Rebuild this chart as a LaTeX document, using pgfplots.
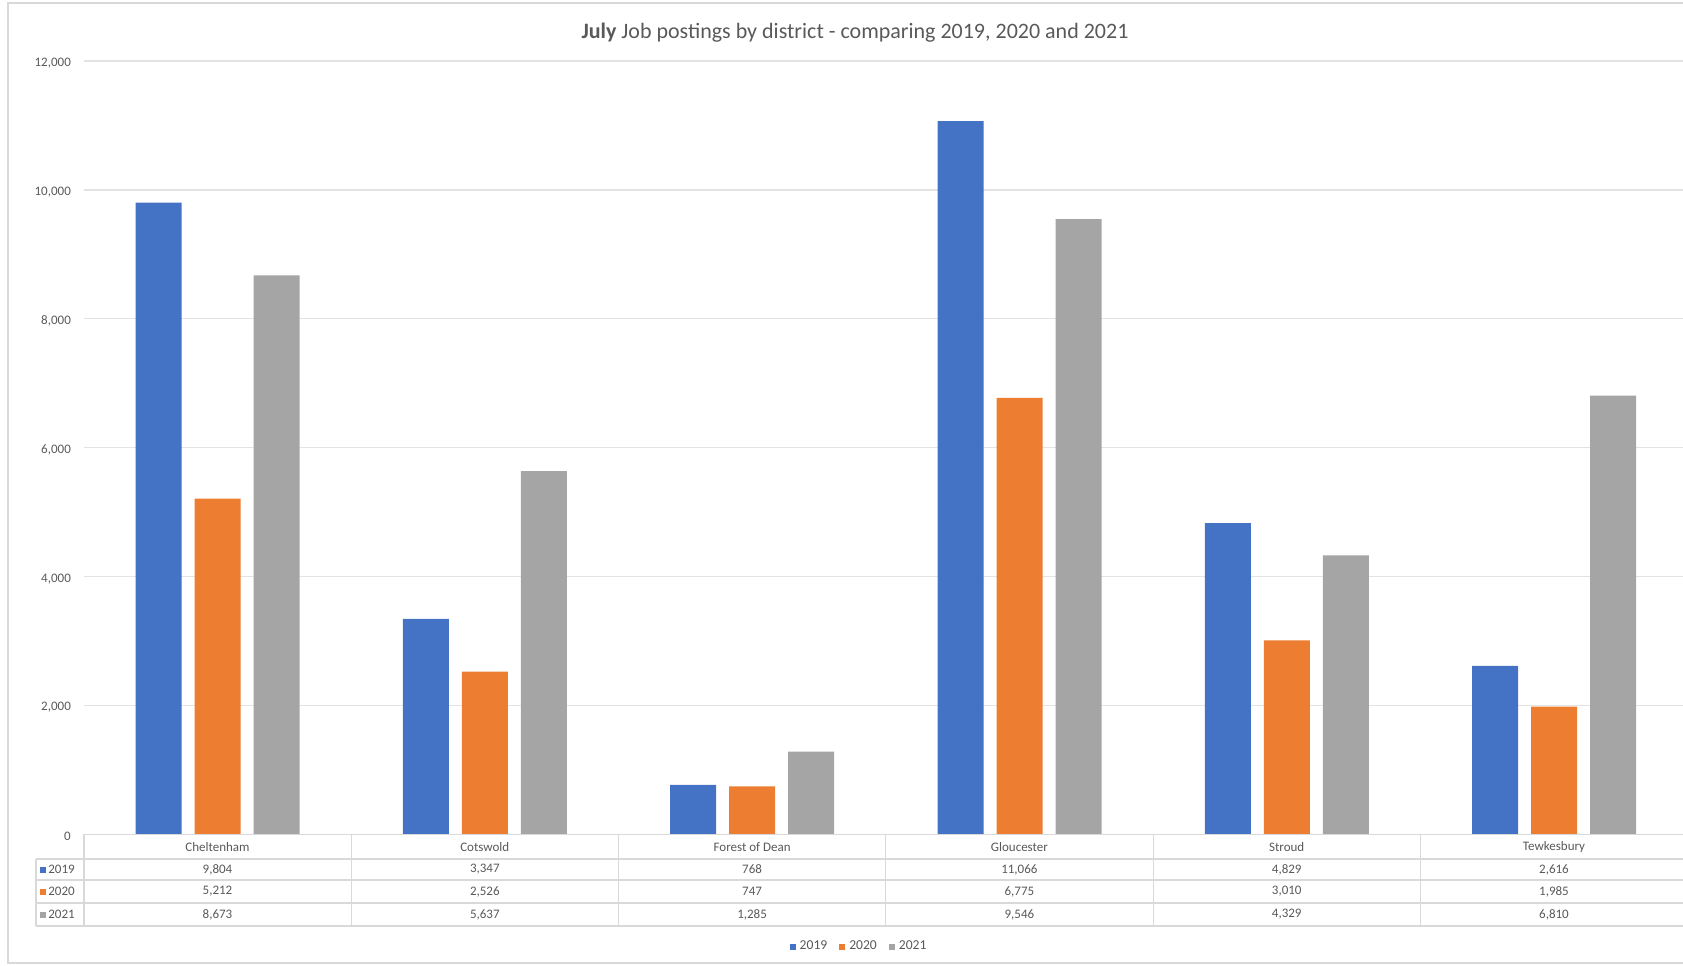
\documentclass[border=0pt]{standalone}
\usepackage{pgfplots}
\pgfplotsset{compat=1.18}
\usepackage{fontspec}
\setmainfont{Carlito}
\definecolor{c19}{HTML}{4472C4}
\definecolor{c20}{HTML}{ED7D31}
\definecolor{c21}{HTML}{A5A5A5}
\definecolor{txt}{HTML}{595959}
\definecolor{gridc}{HTML}{E3E3E3}
\definecolor{bord}{HTML}{D9D9D9}
\begin{document}
\begin{tikzpicture}
\useasboundingbox (0,0) rectangle (841.5pt,482.5pt);
\clip (0,0) rectangle (841.5pt,482.5pt);
\begin{axis}[at={(41.95pt,65.25pt)}, anchor=south west, scale only axis,
  width=802pt, height=386.75pt,
  xmin=-0.5, xmax=5.5, ymin=0, ymax=12000,
  ybar=6.5pt, bar width=23pt,
  xtick=\empty, ytick={0,2000,...,12000},
  scaled y ticks=false,
  ymajorgrids, major grid style={gridc, line width=0.6pt},
  axis line style={draw=none}, major tick length=0pt,
  yticklabel style={text=txt, font=\fontsize{6.5}{8}\selectfont, xshift=-3pt, yshift=-1pt},
  /pgf/number format/.cd, fixed, 1000 sep={,}, assume math mode=true, /pgfplots/.cd,
  legend columns=3,
  legend style={at={(0.4839,-0.1454)}, anchor=center, draw=none, fill=none,
    font=\fontsize{6.8}{8}\selectfont, text=txt,
    /tikz/every even column/.append style={column sep=4pt}},
  legend image code/.code={\fill[#1] (0pt,-1.5pt) rectangle (3pt,1.5pt);},
]
\addplot[fill=c19, draw=none] coordinates {(0,9804) (1,3347) (2,768) (3,11066) (4,4829) (5,2616)};
\addplot[fill=c20, draw=none] coordinates {(0,5212) (1,2526) (2,747) (3,6775) (4,3010) (5,1985)};
\addplot[fill=c21, draw=none] coordinates {(0,8673) (1,5637) (2,1285) (3,9546) (4,4329) (5,6810)};
\legend{2019,2020,2021}
\end{axis}
\begin{scope}[x=0.5pt, y=-0.5pt, yshift=482.5pt]
\draw[bord, line width=0.8pt] (8,3) rectangle (1720,963);
\node[text=txt, font=\fontsize{11}{13}\selectfont] at (855,33) {\textbf{July} Job postings by district - comparing 2019, 2020 and 2021};
\draw[bord, line width=0.6pt] (83.9,834.5) -- (1700,834.5);
\foreach \yy in {859,880,903,926} \draw[bord, line width=0.6pt] (36,\yy) -- (1700,\yy);
\draw[bord, line width=0.6pt] (36,859) -- (36,926);
\foreach \k in {0,...,5} \draw[bord, line width=0.6pt] ({83.9+\k*267.3},834.5) -- ({83.9+\k*267.3},926);
\begin{scope}[every node/.style={text=txt, font=\fontsize{6.5}{8}\selectfont}]
\foreach \name [count=\k from 0] in {Cheltenham,Cotswold,Forest of Dean,Gloucester,Stroud,Tewkesbury}
  \node at ({217.5+\k*267.3},847) {\name};
\foreach \v [count=\k from 0] in {9804,3347,768,11066,4829,2616}
  \node at ({217.5+\k*267.3},869.5) {\pgfmathprintnumber[fixed,1000 sep={,},assume math mode=true]{\v}};
\foreach \v [count=\k from 0] in {5212,2526,747,6775,3010,1985}
  \node at ({217.5+\k*267.3},891.5) {\pgfmathprintnumber[fixed,1000 sep={,},assume math mode=true]{\v}};
\foreach \v [count=\k from 0] in {8673,5637,1285,9546,4329,6810}
  \node at ({217.5+\k*267.3},914.5) {\pgfmathprintnumber[fixed,1000 sep={,},assume math mode=true]{\v}};
\fill[c19] (40,866.5) rectangle (46,872.5); \node[anchor=west, inner sep=0pt] at (48,869.5) {2019};
\fill[c20] (40,888.5) rectangle (46,894.5); \node[anchor=west, inner sep=0pt] at (48,891.5) {2020};
\fill[c21] (40,911.5) rectangle (46,917.5); \node[anchor=west, inner sep=0pt] at (48,914.5) {2021};
\end{scope}
\end{scope}
\end{tikzpicture}
\end{document}
